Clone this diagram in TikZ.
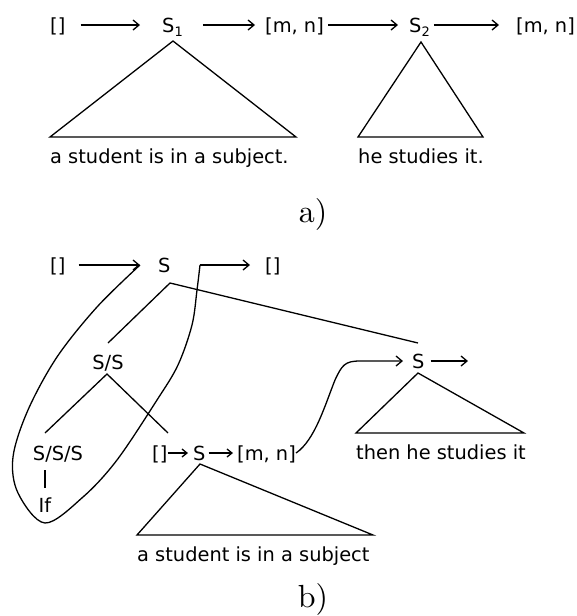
\documentclass[tikz,border=0pt]{standalone}
\usepackage{fontspec}
\newfontfamily\djv{DejaVu Sans}
\newfontfamily\lmten{lmroman10-regular.otf}
\usetikzlibrary{arrows.meta}
\begin{document}
\begin{tikzpicture}[x=1pt,y=-1pt,
  lbl/.style={font=\djv\fontsize{19.4}{22}\selectfont, inner sep=0pt, text height=14pt, text depth=0pt, anchor=base west},
  captxt/.style={font=\djv\fontsize{19.4}{22}\selectfont, inner sep=0pt, anchor=base west},
  part/.style={font=\lmten\fontsize{32}{36}\selectfont, inner sep=0pt, anchor=base},
  ln/.style={line width=1.3pt, line join=miter},
  arr/.style={ln, -{Straight Barb[length=6pt,width=10pt]}},
  sarr/.style={ln, -{Straight Barb[length=5pt,width=8pt]}}]
\useasboundingbox (0,0) rectangle (576,616);
\fill[white] (0,0) rectangle (576,616);

% ---------- part a ----------
\node[lbl] (a1) at (50,32) {[]};
\node[lbl] (a2) at (162,32) {S\raisebox{-4pt}{\fontsize{13}{13}\selectfont 1}};
\node[lbl] (a3) at (265,32) {[m, n]};
\node[lbl] (a4) at (409,32) {S\raisebox{-4pt}{\fontsize{13}{13}\selectfont 2}};
\node[lbl] (a5) at (516,32) {[m, n]};
\draw[arr, shorten <=15pt, shorten >=22pt] (a1.east) -- (a2.west);
\draw[arr, shorten <=20pt, shorten >=10pt] (a2.east) -- (a3.west);
\draw[arr, shorten <=4pt, shorten >=11pt] (a3.east) -- (a4.west);
\draw[arr, shorten <=4pt, shorten >=17pt] (a4.east) -- (a5.west);

\coordinate (t1) at (173,41);
\coordinate (t1l) at (50,137);
\coordinate (t1r) at (296,137);
\draw[ln] (t1) -- (t1l) -- (t1r) -- cycle;
\node[captxt] (cap1) at (50,163) {a student is in a subject.};

\coordinate (t2) at (421,42);
\coordinate (t2l) at (358,137);
\coordinate (t2r) at (483,137);
\draw[ln] (t2) -- (t2l) -- (t2r) -- cycle;
\node[captxt] (cap2) at (358,163) {he studies it.};

\node[part] (pa) at (313,222) {a)};

% ---------- part b ----------
\node[lbl] (b1) at (50,272) {[]};
\node[lbl] (b2) at (158,272) {S};
\node[lbl] (b3) at (265,272) {[]};
\coordinate (c1) at (140,265);
\coordinate (c2) at (200,265);
\draw[arr, shorten <=13pt] (b1.east) -- (c1);
\draw[ln] plot[smooth, tension=0.55] coordinates {(c1) (97,307) (57,357) (28,410) (13,457) (18,493) (45,523) (83,497) (117,460) (157,400) (178,365) (192,325) (197,290) (c2)};
\draw[arr, shorten >=15pt] (c2) -- (b3.west);

\coordinate (tS) at (170,283);
\coordinate (rS) at (418,343);
\coordinate (sS) at (108,343);
\draw[ln] (rS) -- (tS) -- (sS);
\node[captxt, anchor=base] (ss) at (108,369) {S/S};
\coordinate (tSS) at (107,374);
\coordinate (sSl) at (45,433);
\coordinate (sSr) at (168,433);
\draw[ln] (sSl) -- (tSS) -- (sSr);
\node[captxt, anchor=base] (sss) at (58,460) {S/S/S};
\coordinate (v1) at (45,470);
\coordinate (v2) at (45,488);
\draw[ln] (v1) -- (v2);
\node[captxt, anchor=base] (if) at (45,512) {If};

\node[lbl] (d1) at (152,460) {[]};
\node[lbl] (d2) at (193,460) {S};
\node[lbl] (d3) at (237,460) {[m, n]};
\draw[sarr, shorten >=5pt] (d1.east) -- (d2.west);
\draw[sarr, shorten <=3pt, shorten >=4pt] (d2.east) -- (d3.west);
\coordinate (t3) at (200,464);
\coordinate (t3l) at (137,535);
\coordinate (t3r) at (373,535);
\draw[ln] (t3) -- (t3l) -- (t3r) -- cycle;
\node[captxt] (cap3) at (137,561) {a student is in a subject};

\node[lbl] (r1) at (412,368) {S};
\coordinate (e1) at (360,361);
\draw[arr, shorten >=9pt] (d3.east) .. controls (315,440) and (325,405) .. (335,380) .. controls (342,365) and (345,361) .. (e1) -- (r1.west);
\coordinate (r2) at (468,361);
\draw[arr, shorten <=6pt] (r1.east) -- (r2);
\coordinate (t4) at (418,373);
\coordinate (t4l) at (356,433);
\coordinate (t4r) at (524,433);
\draw[ln] (t4) -- (t4l) -- (t4r) -- cycle;
\node[captxt] (cap4) at (356,459) {then he studies it};

\node[part] (pb) at (313,607) {b)};
\end{tikzpicture}
\end{document}
